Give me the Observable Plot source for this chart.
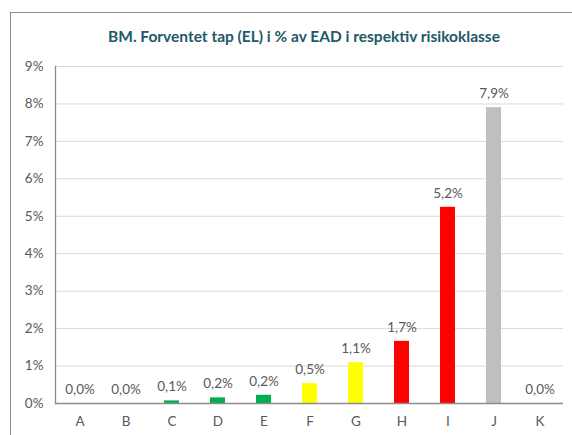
<!DOCTYPE html>
<html>
<head>
<meta charset="utf-8">
<script src="https://cdn.jsdelivr.net/npm/d3@7"></script>
<script src="https://cdn.jsdelivr.net/npm/@observablehq/plot@0.6"></script>
<style>
  html, body { margin: 0; padding: 0; background: #fff; }
  #wrap { position: relative; width: 572px; height: 435px; overflow: hidden; font-family: Lato, "Open Sans", sans-serif; }
  #frame { position: absolute; left: 10px; top: 12px; width: 600px; height: 500px; border-left: 1.5px solid #8c8c8c; border-top: 1.5px solid #8c8c8c; box-sizing: border-box; }
  #title { position: absolute; left: 0; top: 27px; width: 608px; text-align: center; font-weight: bold; font-size: 15.5px; color: #215968; }
  #chart { position: absolute; left: 0; top: 0; }
</style>
</head>
<body>
<div id="wrap">
  <div id="frame"></div>
  <div id="chart"></div>
  <div id="title">BM. Forventet tap (EL) i % av EAD i respektiv risikoklasse</div>
</div>
<script>
const categories = ["A", "B", "C", "D", "E", "F", "G", "H", "I", "J", "K"];
const values = [0, 0, 0.0007, 0.0015, 0.0022, 0.0053, 0.0109, 0.0166, 0.0524, 0.0790, 0];
const labels = ["0,0%", "0,0%", "0,1%", "0,2%", "0,2%", "0,5%", "1,1%", "1,7%", "5,2%", "7,9%", "0,0%"];
const colors = ["#00b050", "#00b050", "#00b050", "#00b050", "#00b050", "#ffff00", "#ffff00", "#ff0000", "#ff0000", "#bfbfbf", "#bfbfbf"];
const yTicks = [0, 0.01, 0.02, 0.03, 0.04, 0.05, 0.06, 0.07, 0.08, 0.09];

const data = categories.map((c, i) => ({cat: c, value: values[i], label: labels[i], color: colors[i]}));

const chart = Plot.plot({
  width: 572,
  height: 435,
  marginLeft: 55,
  marginRight: 9,
  marginTop: 66,
  marginBottom: 32,
  style: {fontFamily: "Lato, 'Open Sans', sans-serif", fontSize: "13.5px", color: "#595959", background: "transparent"},
  x: {domain: categories, paddingInner: 0.68, paddingOuter: 0.34, label: null},
  y: {domain: [0, 0.09], label: null},
  marks: [
    Plot.gridY(yTicks, {stroke: "#d9d9d9", strokeOpacity: 1}),
    Plot.axisY(yTicks, {tickSize: 0, tickPadding: 12, tickFormat: d => Math.round(d * 100) + "%", fill: "#595959", fontSize: 13.5}),
    Plot.axisX({tickSize: 0, tickPadding: 13, fill: "#595959", fontSize: 13.5}),
    Plot.barY(data, {x: "cat", y: "value", fill: "color"}),
    Plot.ruleY([0], {stroke: "#8c8c8c", strokeWidth: 1.3}),
    Plot.frame({anchor: "left", stroke: "#8c8c8c", strokeWidth: 1.3}),
    Plot.text(data, {x: "cat", y: "value", text: "label", dy: -14, fill: "#595959", fontSize: 13.5})
  ]
});
document.getElementById("chart").appendChild(chart);
</script>
</body>
</html>
